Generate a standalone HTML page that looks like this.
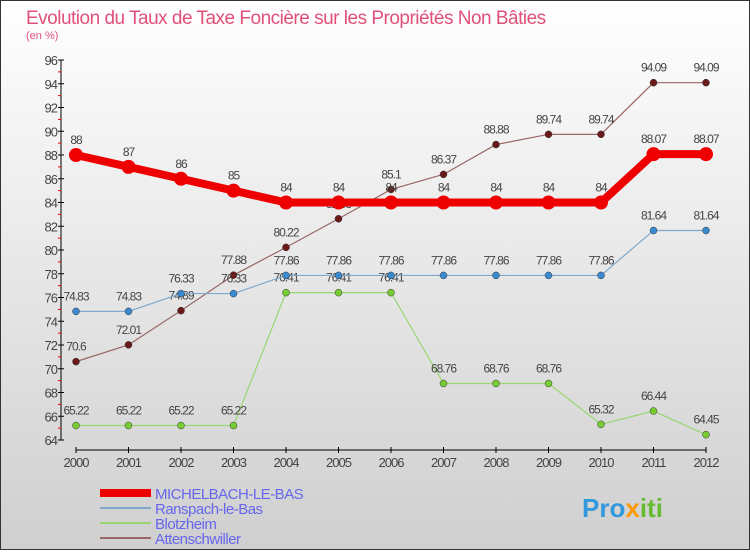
<!DOCTYPE html>
<html><head><meta charset="utf-8"><style>
body{margin:0;}
#c{width:750px;height:550px;position:relative;}
svg text{font-family:"Liberation Sans",sans-serif;}
</style></head><body>
<div id="c">
<svg id="s" width="750" height="550" xmlns="http://www.w3.org/2000/svg">
<defs><linearGradient id="bg" x1="0" y1="0" x2="0" y2="1"><stop offset="0" stop-color="#ffffff"/><stop offset="1" stop-color="#cfcfcf"/></linearGradient></defs>
<rect x="0.5" y="0.5" width="749" height="549" fill="url(#bg)" stroke="#333"/>
<text x="26" y="24" font-size="19" fill="#e0507a" letter-spacing="-0.5">Evolution du Taux de Taxe Foncière sur les Propriétés Non Bâties</text>
<text x="26" y="39" font-size="11" fill="#e0507a">(en %)</text>
<g id="axes"></g><g id="series"></g>
<g>
<rect x="100" y="489" width="51" height="8" fill="#ee0000"/>
<text x="155" y="499" font-size="15" fill="#6666ee" letter-spacing="-0.5">MICHELBACH-LE-BAS</text>
<rect x="100" y="507" width="51" height="2" fill="#7fa8cc"/>
<text x="155" y="514" font-size="15" fill="#6666ee" letter-spacing="-0.5">Ranspach-le-Bas</text>
<rect x="100" y="522" width="51" height="2" fill="#99d670"/>
<text x="155" y="529" font-size="15" fill="#6666ee" letter-spacing="-0.5">Blotzheim</text>
<rect x="100" y="537" width="51" height="2" fill="#996666"/>
<text x="155" y="544" font-size="15" fill="#6666ee" letter-spacing="-0.5">Attenschwiller</text>
</g>
<text x="582" y="517" font-size="26" font-weight="bold" fill="#3399dd">Pro<tspan fill="#ff9900">x</tspan><tspan fill="#66bb33">iti</tspan></text>
</svg></div>
<script>
const years=[2000,2001,2002,2003,2004,2005,2006,2007,2008,2009,2010,2011,2012];
const yTicks=[64,66,68,70,72,74,76,78,80,82,84,86,88,90,92,94,96];
const michelbach=[88,87,86,85,84,84,84,84,84,84,84,88.07,88.07];
const ranspach=[74.83,74.83,76.33,76.33,77.86,77.86,77.86,77.86,77.86,77.86,77.86,81.64,81.64];
const blotzheim=[65.22,65.22,65.22,65.22,76.41,76.41,76.41,68.76,68.76,68.76,65.32,66.44,64.45];
const attenschwiller=[70.6,72.01,74.89,77.88,80.22,82.63,85.1,86.37,88.88,89.74,89.74,94.09,94.09];
const NS='http://www.w3.org/2000/svg';
const X=i=>76+i*52.5, Y=v=>60+(96-v)*11.875;
function mk(t,a,p){const e=document.createElementNS(NS,t);for(const k in a)e.setAttribute(k,a[k]);p.appendChild(e);return e;}
const ax=document.getElementById('axes'), sg=document.getElementById('series');
let l=mk('line',{x1:61,y1:60,x2:61,y2:440,stroke:'#000'},ax);

yTicks.forEach(v=>{mk('line',{x1:58,x2:64,y1:Y(v),y2:Y(v),stroke:'#000'},ax);
 if(v<96)mk('line',{x1:58,x2:61,y1:Y(v+1),y2:Y(v+1),stroke:'#e00'},ax);
 const t=mk('text',{x:57,y:Y(v)+5,'font-size':13,fill:'#444','text-anchor':'end','letter-spacing':'-1'},ax);t.textContent=v;
 });
l=mk('line',{x1:X(0),y1:450,x2:X(12),y2:450,stroke:'#000'},ax);

years.forEach((y,i)=>{mk('line',{x1:X(i),x2:X(i),y1:447,y2:453,stroke:'#000'},ax);
 const t=mk('text',{x:X(i),y:467,'font-size':13,fill:'#444','text-anchor':'middle','letter-spacing':'-1'},ax);t.textContent=y;
 });
function fmt(v){return String(v).replace('.','.');}
function series(d,name,col,dot,w,r){
 const g=mk('g',{},sg);
 const p=mk('polyline',{points:d.map((v,i)=>X(i)+','+Y(v)).join(' '),fill:'none',stroke:col,'stroke-width':w,'stroke-linejoin':'round'},g);
 
 d.forEach((v,i)=>{const c=mk('circle',{cx:X(i),cy:Y(v),r:r,fill:dot,stroke:w>3?dot:'#333','stroke-width':w>3?0:0.5},g);
  
  const t=mk('text',{x:X(i),y:Y(v)-11,'font-size':12,fill:'#444','text-anchor':'middle','letter-spacing':'-1'},g);t.textContent=fmt(v);
  });
}
series(attenschwiller,'attenschwiller','#996666','#6b1a1a',1.2,3.5);
series(blotzheim,'blotzheim','#99d670','#77cc33',1.2,3.5);
series(ranspach,'ranspach','#7fa8cc','#3a8ad0',1.2,3.5);
series(michelbach,'michelbach','#ee0000','#ee0000',8,7);
</script></body></html>
